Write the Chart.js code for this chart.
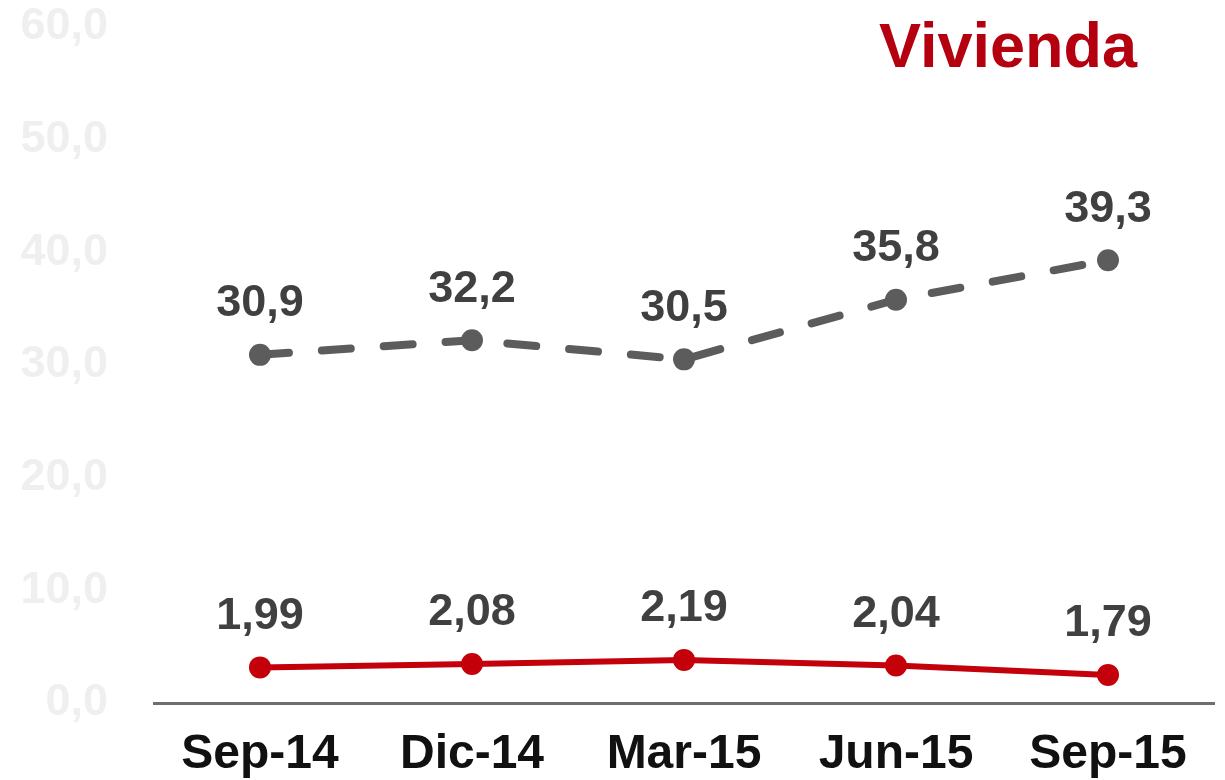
<!DOCTYPE html>
<html>
<head>
<meta charset="utf-8">
<script src="https://cdn.jsdelivr.net/npm/chart.js@4/dist/chart.umd.min.js"></script>
<style>
html,body{margin:0;padding:0;background:#fff;}
#wrap{width:1225px;height:780px;position:relative;}
</style>
</head>
<body>
<div id="wrap"><canvas id="c" width="1225" height="780"></canvas></div>
<script>
const categories = ['Sep-14','Dic-14','Mar-15','Jun-15','Sep-15'];
const greyValues = [30.9, 32.2, 30.5, 35.8, 39.3];
const redValues = [1.99, 2.08, 2.19, 2.04, 1.79];
const yTicks = [0, 10, 20, 30, 40, 50, 60];
const titleText = 'Vivienda';

const fmt1 = v => v.toFixed(1).replace('.', ',');
const fmt2 = v => v.toFixed(2).replace('.', ',');

const labelPlugin = {
  id: 'valLabels',
  afterDatasetsDraw(chart) {
    const ctx = chart.ctx;
    ctx.save();
    ctx.font = 'bold 45px "Liberation Sans", Arial, sans-serif';
    ctx.fillStyle = '#404040';
    ctx.textAlign = 'center';
    ctx.textBaseline = 'middle';
    chart.data.datasets.forEach((ds, i) => {
      const meta = chart.getDatasetMeta(i);
      meta.data.forEach((pt, j) => {
        ctx.fillText(ds.fmt(ds.data[j]), pt.x, pt.y - 51);
      });
    });
    // title
    ctx.font = 'bold 63px "Liberation Sans", Arial, sans-serif';
    ctx.fillStyle = '#b5000f';
    ctx.fillText(titleText, 1008, 50);
    ctx.restore();
  }
};

new Chart(document.getElementById('c'), {
  type: 'line',
  data: {
    labels: categories,
    datasets: [
      {
        data: greyValues,
        fmt: fmt1,
        yAxisID: 'y',
        borderColor: '#5c5c5c',
        backgroundColor: '#5c5c5c',
        borderWidth: 8,
        borderDash: [29, 33],
        borderCapStyle: 'round',
        pointRadius: 11,
        pointBorderWidth: 0,
        tension: 0
      },
      {
        data: redValues,
        fmt: fmt2,
        yAxisID: 'y2',
        borderColor: '#c4000b',
        backgroundColor: '#c4000b',
        borderWidth: 6,
        pointRadius: 11,
        pointBorderWidth: 0,
        tension: 0
      }
    ]
  },
  options: {
    responsive: false,
    animation: false,
    layout: { padding: { top: 27, right: 9, left: 0, bottom: 0 } },
    plugins: { legend: { display: false }, tooltip: { enabled: false } },
    scales: {
      x: {
        offset: true,
        grid: { display: false, drawTicks: false },
        border: { display: true, color: '#6e6e6e', width: 3 },
        ticks: {
          color: '#111',
          padding: 23,
          font: { family: '"Liberation Sans", Arial, sans-serif', size: 48, weight: 'bold' }
        },
        afterFit(s) { s.height = 77; s.paddingLeft = 0; s.paddingRight = 0; }
      },
      y: {
        min: 0, max: 60,
        afterBuildTicks(s) { s.ticks = yTicks.map(v => ({ value: v })); },
        grid: { display: false, drawTicks: false },
        border: { display: false },
        ticks: {
          color: '#efefef',
          padding: 46,
          callback: v => fmt1(v),
          font: { family: '"Liberation Sans", Arial, sans-serif', size: 45, weight: 'bold' }
        },
        afterFit(s) { s.width = 154; s.paddingTop = 0; s.paddingBottom = 0; }
      },
      y2: {
        display: false,
        min: 1.04, max: 19.07
      }
    }
  },
  plugins: [labelPlugin]
});
</script>
</body>
</html>
